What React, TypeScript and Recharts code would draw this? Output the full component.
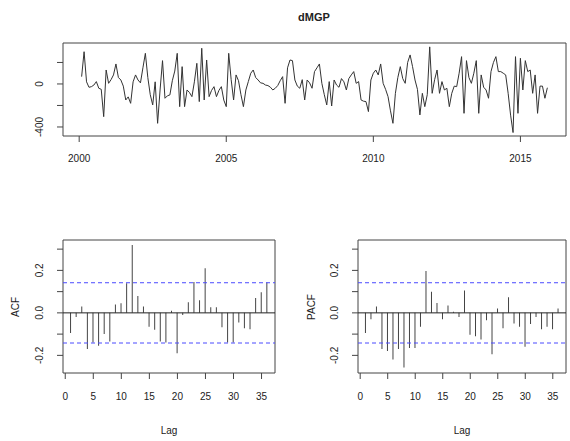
import React from 'react';
import {
    LineChart,
    Line,
    ComposedChart,
    Bar,
    XAxis,
    YAxis,
    ReferenceArea,
    ReferenceLine
} from 'recharts';

const chartTitle = 'dMGP';
const startYear = 2000;
const startMonth = 2; // first differenced value is Feb 2000

// monthly differenced series
const dmgp = [
    68, 300, 20, -31, -25, -10, 22, -40, -50, -304, 130, 6,
    40, 84, 186, 60, 37, -20, -149, -120, -180, 20, 84, 37,
    10, 150, 285, 60, -100, -195, 20, -366, -56, 217, -133, -110,
    -102, 30, 120, 285, -211, 161, -211, -56, -80, -118, 20, 192,
    -164, 332, -149, 223, -118, -60, -25, -118, -60, -25, -150, -211,
    285, 40, -149, 84, 30, -100, -211, -56, 22, 100, 130, 60,
    37, 10, 6, -10, -15, -30, -56, -40, -15, 30, 68, -180,
    150, 223, 217, 37, -20, -40, 40, -149, 37, 10, -40, 115,
    150, 186, 6, -100, -195, 22, -205, 37, -10, -31, 50, 20,
    -56, 50, 84, 115, 6, 22, -149, -160, -164, -257, 37, 100,
    130, 84, 186, 6, -50, -118, -250, -366, -87, 60, 161, 50,
    6, 200, 270, 161, 37, -50, -288, -87, -211, -100, 345, -87,
    40, 130, -87, 22, -56, -40, -211, -87, -20, -25, 100, 254,
    -273, 217, 60, 6, 100, 217, -273, 84, -30, -56, -133, 115,
    200, 254, 115, 115, 100, 84, -87, -290, -452, 254, -273, 239,
    -56, 217, 115, 130, -87, 84, -273, -20, -20, -133, -35
];

const yearTicks = [2000, 2005, 2010, 2015];
const levelTicks = [-400, -200, 0, 200];
const levelLabels = [0, -400];

const lags = [
    1, 2, 3, 4, 5, 6, 7, 8, 9, 10, 11, 12,
    13, 14, 15, 16, 17, 18, 19, 20, 21, 22, 23, 24,
    25, 26, 27, 28, 29, 30, 31, 32, 33, 34, 35, 36
];
const acfValues = [
    -0.095, -0.02, 0.03, -0.17, -0.14, -0.155, -0.10, -0.135, 0.04, 0.045, 0.14, 0.32,
    0.08, 0.03, -0.065, -0.08, -0.135, -0.14, 0.01, -0.19, -0.01, 0.05, 0.145, 0.06,
    0.21, 0.027, 0.027, -0.068, -0.14, -0.14, -0.045, -0.072, -0.077, 0.07, 0.097, 0.143
];
const pacfValues = [
    -0.095, -0.03, 0.03, -0.17, -0.18, -0.22, -0.17, -0.257, -0.165, -0.165, -0.065, 0.197,
    0.10, 0.046, -0.03, 0.035, 0.005, -0.02, 0.105, -0.103, -0.11, -0.125, -0.035, -0.195,
    0.02, -0.072, 0.074, -0.05, -0.065, -0.16, -0.052, -0.02, -0.077, -0.065, -0.077, 0.02
];
const lagTicks = [0, 5, 10, 15, 20, 25, 30, 35];
const corrTicks = [-0.2, -0.1, 0, 0.1, 0.2, 0.3];
const corrLabels = [-0.2, 0, 0.2];

const ciBound = 1.96 / Math.sqrt(dmgp.length);

const FONT = '"Liberation Sans", Arial, sans-serif';
const INK = '#222';

const series = dmgp.map((v, i) => ({ t: startYear + (startMonth - 1 + i) / 12, v }));
const acfData = lags.map((lag, i) => ({ lag, v: acfValues[i] }));
const pacfData = lags.map((lag, i) => ({ lag, v: pacfValues[i] }));

const XTick = (props: any) => {
    const { x, y, payload } = props;
    return (
        <text x={x} y={y} dy="0.71em" textAnchor="middle" fontSize={10} fill={INK} fontFamily={FONT}>
            {payload.value}
        </text>
    );
};

const makeYTick = (show: number[], fmt: (v: number) => string) => (props: any) => {
    const { x, y, payload } = props;
    if (!show.some(s => Math.abs(s - payload.value) < 1e-9)) return <g />;
    const bx = x - 12;
    return (
        <text x={bx} y={y} transform={`rotate(-90 ${bx} ${y})`} textAnchor="middle" fontSize={10} fill={INK} fontFamily={FONT}>
            {fmt(payload.value)}
        </text>
    );
};

const LevelTick = makeYTick(levelLabels, v => String(v));
const CorrTick = makeYTick(corrLabels, v => v.toFixed(1));

// axis band sizes; margins below are reduced by these so the boxes land where R put them
const AX_H = 30;
const AX_W = 30;

const CorrPanel = ({ data, left, boxLeft, boxRight }: { data: { lag: number; v: number }[]; left: number; boxLeft: number; boxRight: number }) => (
    <div style={{ position: 'absolute', left, top: 200 }}>
        <ComposedChart width={285} height={241} data={data} margin={{ top: 40, right: 285 - boxRight, bottom: 68 - AX_H, left: boxLeft - AX_W }}>
            <XAxis
                dataKey="lag"
                type="number"
                domain={[-0.4, 37.4]}
                ticks={lagTicks}
                interval={0}
                height={AX_H}
                axisLine={false}
                tickLine={{ stroke: '#444' }}
                tickSize={6}
                tickMargin={14}
                tick={<XTick />}
                allowDataOverflow
            />
            <YAxis
                type="number"
                domain={[-0.283, 0.343]}
                ticks={corrTicks}
                interval={0}
                width={AX_W}
                axisLine={false}
                tickLine={{ stroke: '#444' }}
                tickSize={6}
                tick={<CorrTick />}
                allowDataOverflow
            />
            <ReferenceArea x1={-0.4} x2={37.4} y1={-0.283} y2={0.343} fill="none" stroke="#444" ifOverflow="visible" />
            <ReferenceLine y={ciBound} stroke="#4a4aff" strokeDasharray="4 3" />
            <ReferenceLine y={-ciBound} stroke="#4a4aff" strokeDasharray="4 3" />
            <ReferenceLine y={0} stroke={INK} />
            <Bar dataKey="v" fill="#444" barSize={1} isAnimationActive={false} />
        </ComposedChart>
    </div>
);

export default function App() {
    return (
        <div style={{ position: 'fixed', left: 0, top: 0, width: 570, height: 441, background: '#fff' }}>
            {/* Series */}
            <div style={{ position: 'absolute', left: 0, top: 0 }}>
                <LineChart width={570} height={180} data={series} margin={{ top: 43, right: 4, bottom: 44 - AX_H, left: 63 - AX_W }}>
                    <XAxis
                        dataKey="t"
                        type="number"
                        domain={[1999.45, 2016.55]}
                        ticks={yearTicks}
                        interval={0}
                        height={AX_H}
                        axisLine={false}
                        tickLine={{ stroke: '#444' }}
                        tickSize={6}
                        tickMargin={13}
                        tick={<XTick />}
                        allowDataOverflow
                    />
                    <YAxis
                        type="number"
                        domain={[-484, 381]}
                        ticks={levelTicks}
                        interval={0}
                        width={AX_W}
                        axisLine={false}
                        tickLine={{ stroke: '#444' }}
                        tickSize={6}
                        tick={<LevelTick />}
                        allowDataOverflow
                    />
                    <ReferenceArea x1={1999.45} x2={2016.55} y1={-484} y2={381} fill="none" stroke="#444" ifOverflow="visible" />
                    <Line type="linear" dataKey="v" stroke="#333" strokeWidth={1} dot={false} isAnimationActive={false} />
                </LineChart>
            </div>

            {/* ACF / PACF */}
            <CorrPanel data={acfData} left={0} boxLeft={63} boxRight={275} />
            <CorrPanel data={pacfData} left={285} boxLeft={73} boxRight={281} />

            {/* Titles */}
            <svg width={570} height={441} style={{ position: 'absolute', left: 0, top: 0, pointerEvents: 'none' }} fontFamily={FONT} fill={INK}>
                <text x={314} y={21} textAnchor="middle" fontSize={11} fontWeight="bold">{chartTitle}</text>
                <text x={19} y={307} transform="rotate(-90 19 307)" textAnchor="middle" fontSize={10}>ACF</text>
                <text x={315} y={307} transform="rotate(-90 315 307)" textAnchor="middle" fontSize={10}>PACF</text>
                <text x={169} y={434} textAnchor="middle" fontSize={10}>Lag</text>
                <text x={462} y={434} textAnchor="middle" fontSize={10}>Lag</text>
            </svg>
        </div>
    );
}
